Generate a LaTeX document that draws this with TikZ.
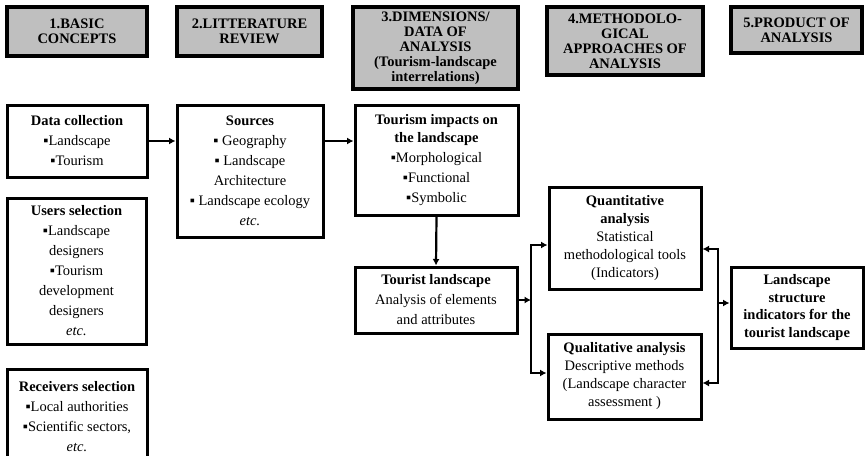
\documentclass[tikz,border=0pt]{standalone}
\usepackage{fontspec}
\setmainfont{Liberation Serif}
\usepackage{tikz}
\usetikzlibrary{arrows.meta}
\definecolor{headgray}{HTML}{BFBFBF}
\newcommand{\sqb}{▪}

\begin{document}
\begin{tikzpicture}[x=1pt, y=-1pt,
    head/.style={rectangle, draw=black, line width=3.2pt, fill=headgray, inner sep=2pt, align=center, font=\fontsize{14.5}{15}\selectfont\bfseries},
    box/.style={rectangle, draw=black, line width=3pt, fill=white, inner sep=2pt, align=center, font=\fontsize{14.5}{20}\selectfont},
    arrow/.style={-{Latex[length=6.5pt,width=7pt]}, line width=2.2pt}
]
\useasboundingbox (0,0) rectangle (866,455);
\node[head, minimum width=140, minimum height=49] (h1) at (77,31.5)    {1.BASIC\\CONCEPTS};
\node[head, minimum width=145, minimum height=49] (h2) at (249.5,31.5) {2.LITTERATURE\\REVIEW};
\node[head, minimum width=165, minimum height=82] (h3) at (435.5,48)   {3.DIMENSIONS/\\DATA OF\\ANALYSIS\\(Tourism-landscape\\interrelations)};
\node[head, minimum width=156, minimum height=68] (h4) at (625,41)     {4.METHODOLO-\\GICAL\\APPROACHES OF\\ANALYSIS};
\node[head, minimum width=131, minimum height=46] (h5) at (796.5,30)   {5.PRODUCT OF\\ANALYSIS};

\node[box, minimum width=140, minimum height=72]  (datacol) at (77,141)   {\textbf{Data collection}\\\sqb Landscape\\\sqb Tourism};
\node[box, minimum width=139, minimum height=146] (users)   at (76.5,271) {\textbf{Users selection}\\\sqb Landscape\\designers\\\sqb Tourism\\development\\designers\\\textit{etc.}};
\node[box, minimum width=140, minimum height=95]  (recv)    at (77,416.5) {\textbf{Receivers selection}\\\sqb Local authorities\\\sqb Scientific sectors,\\\textit{etc.}};
\node[box, minimum width=146, minimum height=132] (sources) at (250,171)  {\textbf{Sources}\\\sqb{} Geography\\\sqb{} Landscape\\Architecture\\\sqb{} Landscape ecology\\\textit{etc.}};
\node[box, minimum width=163, minimum height=110] (timpact) at (436.5,160) {\textbf{Tourism impacts on}\\[-2pt]\textbf{the landscape}\\\sqb Morphological\\\sqb Functional\\\sqb Symbolic};
\node[box, minimum width=162, minimum height=66]  (tland)   at (436,300)  {\textbf{Tourist landscape}\\Analysis of elements\\and attributes};
\node[box, minimum width=152, minimum height=102, font=\fontsize{14.5}{18}\selectfont] (quant) at (625,238) {\textbf{Quantitative}\\\textbf{analysis}\\Statistical\\methodological tools\\(Indicators)};
\node[box, minimum width=153, minimum height=85, font=\fontsize{14.5}{18}\selectfont]  (qual)  at (624.5,376.5) {\textbf{Qualitative analysis}\\Descriptive methods\\(Landscape character\\assessment )};
\node[box, minimum width=132, minimum height=81, font=\fontsize{14.5}{17.5}\selectfont\bfseries] (lsi) at (797,307.5) {Landscape\\structure\\indicators for the\\tourist landscape};

\coordinate (jl) at (531,300);
\coordinate (jr) at (718,303);

\draw[arrow] (datacol.east) -- (datacol.east -| sources.west);
\draw[arrow] (sources.east |- datacol.east) -- (timpact.west |- datacol.east);
\draw[arrow] (timpact.south) -- (tland.north);
\draw[arrow] (tland.east) -- (jl);
\draw[arrow] (jl) |- ([yshift=-7pt]quant.west);
\draw[arrow] (jl) |- ([yshift=3.5pt]qual.west);
\draw[arrow] (jr) -- (jr -| lsi.west);
\draw[arrow] (jr) |- ([yshift=-11pt]quant.east);
\draw[arrow] (jr) |- ([yshift=-6.5pt]qual.east);
\end{tikzpicture}
\end{document}
